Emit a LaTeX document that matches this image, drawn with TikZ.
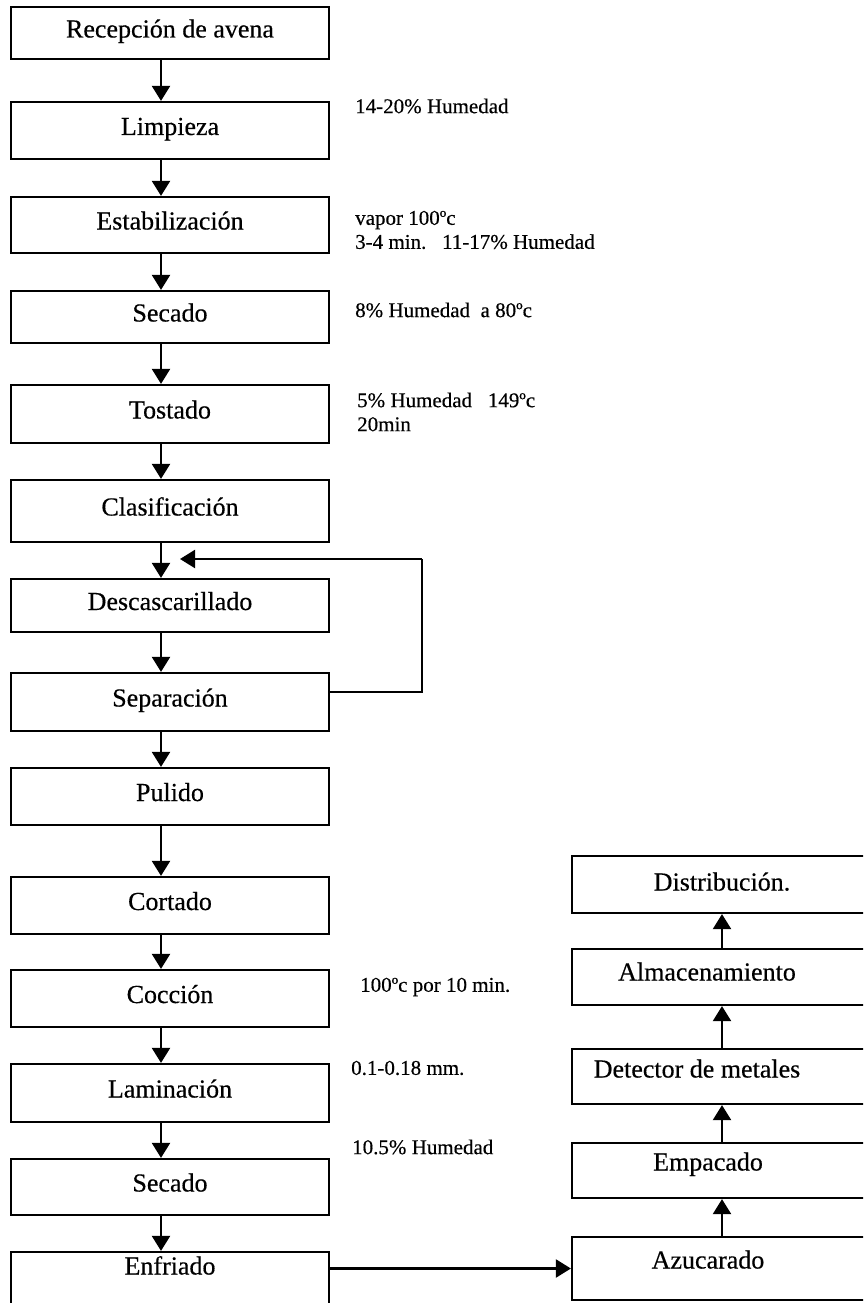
\documentclass[tikz,border=0pt]{standalone}
\usepackage{fontspec}
\setmainfont{Liberation Serif}
\newfontface\heavy{Liberation Serif}[FakeBold=0.4]
\usetikzlibrary{arrows.meta}
\begin{document}
\begin{tikzpicture}[x=1pt,y=-1pt,
  lbox/.style={draw,line width=2.2pt,minimum width=318pt,inner sep=0pt,
    font=\heavy\fontsize{26}{30}\selectfont,text height=18pt,text depth=9pt},
  rbox/.style={draw,line width=2.2pt,minimum width=328pt,inner sep=0pt},
  rtxt/.style={inner sep=0pt,font=\heavy\fontsize{26}{30}\selectfont,text height=18pt,text depth=9pt},
  note/.style={anchor=west,inner sep=0pt,align=left,font=\heavy\fontsize{21}{24}\selectfont},
  arr/.style={line width=2.2pt,-{Triangle[width=18pt,length=15pt]}},
  lnk/.style={line width=2.2pt}]
\path[use as bounding box] (0,0) rectangle (863,1303);
\clip (0,0) rectangle (863,1303);
\fill[white] (0,0) rectangle (863,1303);
% left column
\node[lbox,minimum height=52pt] (rec) at (170,33) {Recepción de avena};
\node[lbox,minimum height=57pt] (lim) at (170,130.5) {Limpieza};
\node[lbox,minimum height=56pt] (est) at (170,225) {Estabilización};
\node[lbox,minimum height=52pt] (sea) at (170,317) {Secado};
\node[lbox,minimum height=58pt] (tos) at (170,414) {Tostado};
\node[lbox,minimum height=62pt] (cla) at (170,511) {Clasificación};
\node[lbox,minimum height=53pt] (des) at (170,605.5) {Descascarillado};
\node[lbox,minimum height=58pt] (sep) at (170,702) {Separación};
\node[lbox,minimum height=57pt] (pul) at (170,796.5) {Pulido};
\node[lbox,minimum height=57pt] (cor) at (170,905.5) {Cortado};
\node[lbox,minimum height=57pt] (coc) at (170,998.5) {Cocción};
\node[lbox,minimum height=58pt] (lam) at (170,1093) {Laminación};
\node[lbox,minimum height=56pt] (seb) at (170,1187) {Secado};
\node[lbox,minimum height=68pt] (enf) at (170,1286) {};
\node[rtxt] (enft) at (170,1270) {Enfriado};
% right column
\node[rbox,minimum height=57pt] (dis) at (736,884.5) {};
\node[rtxt] (dist) at (722,886) {Distribución.};
\node[rbox,minimum height=56pt] (alm) at (736,977) {};
\node[rtxt] (almt) at (707,976) {Almacenamiento};
\node[rbox,minimum height=55pt] (det) at (736,1076.5) {};
\node[rtxt] (dett) at (697,1073) {Detector de metales};
\node[rbox,minimum height=55pt] (emp) at (736,1170.5) {};
\node[rtxt] (empt) at (708,1166) {Empacado};
\node[rbox,minimum height=63pt] (azu) at (736,1268.5) {};
\node[rtxt] (azut) at (708,1264) {Azucarado};
% vertical arrows left
\foreach \a/\b in {rec/lim,lim/est,est/sea,sea/tos,tos/cla,cla/des,des/sep,sep/pul,pul/cor,cor/coc,coc/lam,lam/seb,seb/enf}
  \draw[arr] ([xshift=-9pt]\a.south) -- ([xshift=-9pt]\b.north);
% loop
\coordinate (lp1) at (422,692);
\coordinate (lp2) at (422,559);
\coordinate (lp3) at (180,559);
\draw[lnk] (sep.east |- lp1) -- (lp1) -- (lp2);
\draw[arr] (lp2) -- (lp3);
% to right column
\draw[arr] (enf.east |- azu.west) -- (azu.west);
\foreach \a/\b in {azu/emp,emp/det,det/alm,alm/dis}
  \draw[arr] ([xshift=-14pt]\a.north) -- ([xshift=-14pt]\b.south);
% notes
\node[note] (n1) at (355,106) {14-20\% Humedad};
\node[note] (n2) at (355,230) {vapor 100ºc\\3-4 min.\ \ \ 11-17\% Humedad};
\node[note] (n3) at (355,310) {8\% Humedad\ \ a 80ºc};
\node[note] (n4) at (357,412) {5\% Humedad\ \ \ 149ºc\\20min};
\node[note] (n5) at (360,987) {100ºc por 10 min.};
\node[note] (n6) at (351,1068) {0.1-0.18 mm.};
\node[note] (n7) at (352,1147) {10.5\% Humedad};
\end{tikzpicture}
\end{document}
